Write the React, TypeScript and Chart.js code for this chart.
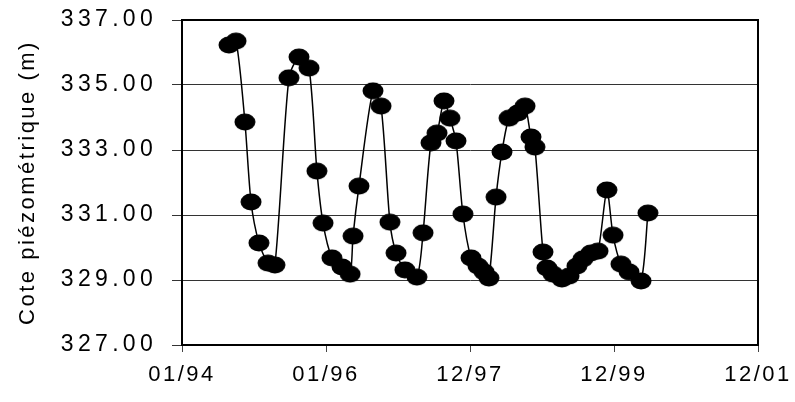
import { useEffect, useRef } from 'react';
import { Chart, registerables } from 'chart.js';

Chart.register(...registerables);

const dates = [
  '1994-08-27', '1994-10-02', '1994-11-16', '1994-12-17', '1995-01-26', '1995-03-13', '1995-04-17',
  '1995-06-27', '1995-08-17', '1995-10-07', '1995-11-16', '1995-12-17', '1996-01-31', '1996-03-22',
  '1996-05-02', '1996-05-17', '1996-06-16', '1996-08-26', '1996-10-06', '1996-11-20', '1996-12-21',
  '1997-02-04', '1997-04-06', '1997-05-07', '1997-06-16', '1997-07-17', '1997-08-21', '1997-09-20',
  '1997-10-21', '1997-11-25', '1998-01-05', '1998-02-09', '1998-03-12', '1998-04-06', '1998-05-12',
  '1998-06-11', '1998-07-17', '1998-08-31', '1998-10-06', '1998-11-05', '1998-11-25', '1999-01-05',
  '1999-01-25', '1999-02-25', '1999-04-11', '1999-05-17', '1999-06-26', '1999-07-27', '1999-09-05',
  '1999-10-11', '1999-11-25', '1999-12-26', '2000-02-04', '2000-03-16', '2000-05-16', '2000-06-20',
];

// Piezometric level (m)
const levels = [
  336.23, 336.35, 333.86, 331.40, 330.14, 329.52, 329.46,
  335.22, 335.86, 335.52, 332.35, 330.75, 329.68, 329.40,
  329.18, 330.35, 331.89, 334.82, 334.35, 330.78, 329.83,
  329.31, 329.09, 330.45, 333.22, 333.52, 334.51, 333.98,
  333.28, 331.03, 329.68, 329.43, 329.25, 329.06, 331.55,
  332.94, 333.98, 334.14, 334.35, 333.40, 333.09, 329.86,
  329.37, 329.18, 329.03, 329.12, 329.43, 329.65, 329.83,
  329.89, 331.77, 330.38, 329.49, 329.25, 328.97, 331.06,
];

const axisStartDate = '1994-01-01';
const xTickStepDays = 730;
const xTickLabels = ['01/94', '01/96', '12/97', '12/99', '12/01'];

const yMin = 327;
const yMax = 337;
const yStep = 2;

const yTitle = 'Cote piézométrique (m)';

const FONT_FAMILY = '"Liberation Sans", Arial, sans-serif';
const BASE_SPACING = '2.5px';
const Y_LABEL_SPACING = '4.3px';

function dayOffset(d: string): number {
  const a = Date.parse(axisStartDate + 'T00:00:00Z');
  const b = Date.parse(d + 'T00:00:00Z');
  return Math.round((b - a) / 86400000);
}

function makeEllipse(w: number, h: number): HTMLCanvasElement {
  const c = document.createElement('canvas');
  c.width = w;
  c.height = h;
  const g = c.getContext('2d')!;
  g.fillStyle = '#000';
  g.beginPath();
  g.ellipse(w / 2, h / 2, w / 2 - 0.5, h / 2 - 0.5, 0, 0, Math.PI * 2);
  g.fill();
  return c;
}

const spacingPlugin = {
  id: 'letterSpacing',
  beforeUpdate(chart: any) {
    chart.ctx.letterSpacing = BASE_SPACING;
  },
  afterLayout(chart: any) {
    const y = chart.scales.y;
    if (y && !y.__wrapped) {
      const orig = y.drawLabels.bind(y);
      y.drawLabels = (ca: any) => {
        chart.ctx.letterSpacing = Y_LABEL_SPACING;
        orig(ca);
        chart.ctx.letterSpacing = BASE_SPACING;
      };
      y.__wrapped = true;
    }
  },
  beforeDraw(chart: any) {
    chart.ctx.letterSpacing = BASE_SPACING;
  },
};

const framePlugin = {
  id: 'frame',
  beforeDatasetsDraw(chart: any) {
    const { ctx, chartArea } = chart;
    ctx.save();
    ctx.strokeStyle = '#000';
    ctx.lineWidth = 2;
    ctx.beginPath();
    ctx.moveTo(chartArea.left, chartArea.top);
    ctx.lineTo(chartArea.right, chartArea.top);
    ctx.lineTo(chartArea.right, chartArea.bottom);
    ctx.stroke();
    ctx.restore();
  },
};

export default function App() {
  const ref = useRef<HTMLCanvasElement>(null);

  useEffect(() => {
    if (!ref.current) return;
    const maxDay = xTickStepDays * (xTickLabels.length - 1);
    const data = dates.map((d, i) => ({ x: dayOffset(d), y: levels[i] }));
    const marker = makeEllipse(22, 18);
    const chart = new Chart(ref.current, {
      type: 'line',
      data: {
        datasets: [
          {
            data,
            borderColor: '#000',
            borderWidth: 1.5,
            tension: 0.25,
            pointStyle: marker as any,
            pointRadius: 9,
            backgroundColor: '#000',
          },
        ],
      },
      options: {
        animation: false,
        responsive: false,
        events: [],
        layout: { padding: { left: 0, top: 20, right: 37, bottom: 0 } },
        plugins: { legend: { display: false }, tooltip: { enabled: false } },
        scales: {
          x: {
            type: 'linear',
            min: 0,
            max: maxDay,
            ticks: {
              stepSize: xTickStepDays,
              autoSkip: false,
              maxRotation: 0,
              callback: (_v: any, i: number) => xTickLabels[i],
              font: { family: FONT_FAMILY, size: 22 },
              color: '#000',
              padding: 10,
            },
            grid: { drawOnChartArea: false, drawTicks: true, tickLength: 7, color: '#444' },
            border: { color: '#000', width: 2 },
            afterFit: (s: any) => {
              s.height = 57;
              s.paddingLeft = 0;
              s.paddingRight = 0;
            },
          },
          y: {
            min: yMin,
            max: yMax,
            ticks: {
              stepSize: yStep,
              callback: (v: any) => Number(v).toFixed(2),
              font: { family: FONT_FAMILY, size: 23 },
              color: '#000',
              padding: 15,
            },
            grid: { color: '#333', lineWidth: 1, tickLength: 10 },
            border: { color: '#000', width: 2 },
            title: {
              display: true,
              text: yTitle,
              font: { family: FONT_FAMILY, size: 22 },
              color: '#000',
              padding: { top: 15, bottom: 0 },
            },
            afterFit: (s: any) => {
              s.width = 182;
              s.paddingTop = 0;
              s.paddingBottom = 0;
            },
          },
        },
      },
      plugins: [spacingPlugin, framePlugin],
    });
    return () => chart.destroy();
  }, []);

  return (
    <div style={{ position: 'absolute', left: 0, top: 0, width: 795, height: 402, background: '#fff' }}>
      <canvas ref={ref} width={795} height={402} style={{ width: 795, height: 402, display: 'block' }} />
    </div>
  );
}
